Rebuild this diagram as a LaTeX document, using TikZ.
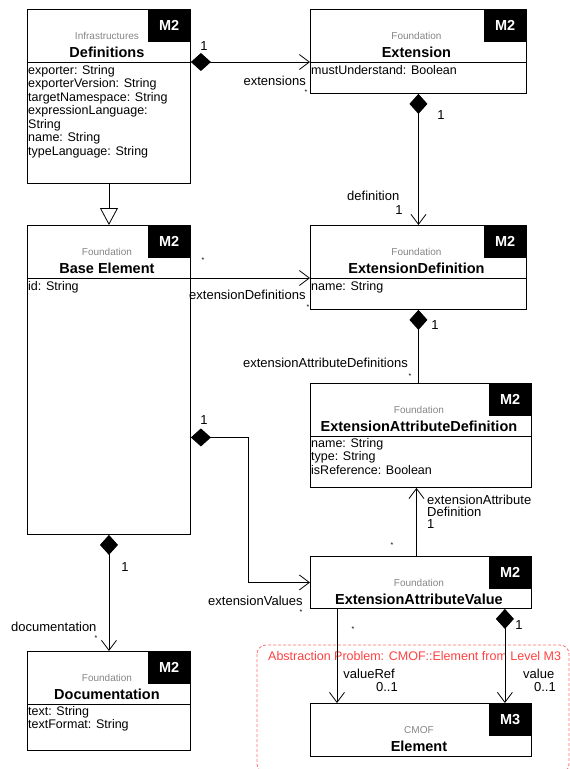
\documentclass[tikz,border=0pt]{standalone}
\usepackage{fontspec}
\setmainfont{Liberation Sans}
\usetikzlibrary{arrows.meta, positioning}
\definecolor{probred}{HTML}{FF4040}
\definecolor{pkggray}{HTML}{858585}

\newcommand{\umlclass}[7]{%
   \node[cls, minimum width=#3, minimum height=#4] (#1) at #2 {};
   \node[lvl] (#1-lvl) at (#1.north east) {#7};
   \node[pkg] (#1-pkg) at ([shift={(-2pt,-30.5pt)}]#1.north) {#5};
   \node[ttl] (#1-ttl) at ([shift={(-2pt,-48pt)}]#1.north) {#6};
}

\begin{document}
\begin{tikzpicture}[
      x=1pt, y=-1pt,
      cls/.style={draw, line width=0.9pt, anchor=north west, inner sep=0pt},
      lvl/.style={fill=black, text=white, anchor=north east, minimum width=43pt, minimum height=33pt, inner sep=0pt, font=\bfseries\fontsize{14.5}{16}\selectfont},
      pkg/.style={anchor=base, inner sep=0pt, text=pkggray, font=\fontsize{10}{12}\selectfont},
      ttl/.style={anchor=base, inner sep=0pt, font=\bfseries\fontsize{14.5}{16}\selectfont},
      attr/.style={anchor=north west, align=left, inner sep=0pt, font=\fontsize{12.5}{13.5}\selectfont},
      div/.style={line width=0.9pt},
      lbl/.style={anchor=base, inner sep=0pt, font=\fontsize{13}{12}\selectfont},
      star/.style={anchor=base, inner sep=0pt, font=\fontsize{7}{8}\selectfont},
      probbox/.style={draw=probred!75, dash pattern=on 3pt off 2pt, rounded corners=9pt, line width=0.8pt},
      assoc/.style={line width=0.8pt, -{Straight Barb[length=10pt, width=15pt]}},
      comp/.style={line width=0.8pt, {Diamond[length=20pt, width=18pt]}-{Straight Barb[length=10pt, width=15pt]}},
      compend/.style={line width=0.8pt, {Diamond[length=20pt, width=18pt]}-},
      gen/.style={line width=0.8pt, -{Triangle[open, length=17pt, width=18pt]}}
   ]
   \useasboundingbox (0,0) rectangle (570,769);

   \begin{scope}
      \clip (0,0) rectangle (570,769);
      \draw[probbox] (257,645) rectangle (569,773);
   \end{scope}
   \node[anchor=base west, inner sep=0pt, text=probred, font=\fontsize{12.5}{14}\selectfont] (prob) at (268,660) {Abstraction Problem: CMOF::Element from Level M3};

   \umlclass{defs}{(27,9)}{163pt}{174pt}{Infrastructures}{Definitions}{M2}
   \umlclass{ext}{(310,9)}{216pt}{84pt}{Foundation}{Extension}{M2}
   \umlclass{extdef}{(310,225)}{216pt}{84pt}{Foundation}{ExtensionDefinition}{M2}
   \umlclass{base}{(27,225)}{163pt}{309pt}{Foundation}{Base Element}{M2}
   \umlclass{ead}{(310,383)}{221pt}{104pt}{Foundation}{ExtensionAttributeDefinition}{M2}
   \umlclass{eav}{(310,556)}{221pt}{52pt}{Foundation}{ExtensionAttributeValue}{M2}
   \umlclass{doc}{(27,651)}{163pt}{99pt}{Foundation}{Documentation}{M2}
   \umlclass{elem}{(310,703)}{221pt}{53pt}{CMOF}{Element}{M3}

   \foreach \c in {defs,ext,extdef,base,ead,doc}
      \draw[div] ([yshift=-53pt]\c.north west) -- ([yshift=-53pt]\c.north east);

   \node[attr] (defs-att) at ([shift={(1pt,-56pt)}]defs.north west) {exporter: String\\exporterVersion: String\\targetNamespace: String\\expressionLanguage:\\String\\name: String\\typeLanguage: String};
   \node[attr] (ext-att) at ([shift={(1pt,-56pt)}]ext.north west) {mustUnderstand: Boolean};
   \node[attr] (extdef-att) at ([shift={(1pt,-56pt)}]extdef.north west) {name: String};
   \node[attr] (base-att) at ([shift={(1pt,-56pt)}]base.north west) {id: String};
   \node[attr] (ead-att) at ([shift={(1pt,-55pt)}]ead.north west) {name: String\\type: String\\isReference: Boolean};
   \node[attr] (doc-att) at ([shift={(1pt,-55pt)}]doc.north west) {text: String\\textFormat: String};

   \draw[comp] ([yshift=-53pt]defs.north east) -- ([yshift=-53pt]ext.north west);
   \draw[comp] (ext.south) -- (extdef.north);
   \draw[gen] (defs.south) -- (base.north);
   \draw[assoc] ([yshift=-53pt]base.north east) -- ([yshift=-53pt]extdef.north west);
   \draw[compend] (extdef.south) -- (extdef.south |- ead.north);
   \draw[assoc] ([xshift=-4.5pt]eav.north) -- ([xshift=-4.5pt]eav.north |- ead.south);
   \draw[comp] ([yshift=-57.5pt]base.east) -| ([xshift=-62pt]eav.west) -- (eav.west);
   \draw[comp] (base.south) -- (doc.north);
   \draw[assoc] ([xshift=27pt]eav.south west) -- ([xshift=27pt]elem.north west);
   \draw[comp] ([xshift=-27pt]eav.south east) -- ([xshift=-27pt]elem.north east);

   \node[lbl] (m-defs) at (204,50) {1};
   \node[lbl, anchor=base east] (r-ext) at (306,85.5) {extensions};
   \node[star] (s-ext) at (306,94) {*};
   \node[lbl] (m-ext) at (441,119) {1};
   \node[lbl, anchor=base west] (r-def) at (347,200) {definition};
   \node[lbl] (m-def) at (399,214) {1};
   \node[star] (s-base) at (203,262) {*};
   \node[lbl, anchor=base west] (r-extdefs) at (189,299.3) {extensionDefinitions};
   \node[star] (s-extdefs) at (308,309) {*};
   \node[lbl] (m-extdef) at (435,329) {1};
   \node[lbl, anchor=base east] (r-eads) at (408,367) {extensionAttributeDefinitions};
   \node[star] (s-eads) at (410,378) {*};
   \node[lbl] (m-base) at (204,424) {1};
   \node[lbl, anchor=north west, align=left] (r-ead) at (427,494.5) {extensionAttribute\\Definition\\1};
   \node[star] (s-eav) at (392,547) {*};
   \node[lbl, anchor=base west] (r-eavs) at (208,605) {extensionValues};
   \node[star] (s-eavs) at (301,614) {*};
   \node[lbl] (m-doc) at (125,571) {1};
   \node[lbl, anchor=base west] (r-doc) at (11,631) {documentation};
   \node[star] (s-doc) at (96,640) {*};
   \node[star] (s-ref) at (353,631) {*};
   \node[lbl, anchor=base east] (r-ref) at (395,678) {valueRef};
   \node[lbl, anchor=base east] (c-ref) at (398,691) {0..1};
   \node[lbl] (m-val) at (519,629) {1};
   \node[lbl, anchor=base west] (r-val) at (523,678) {value};
   \node[lbl, anchor=base east] (c-val) at (556,691) {0..1};
\end{tikzpicture}
\end{document}
